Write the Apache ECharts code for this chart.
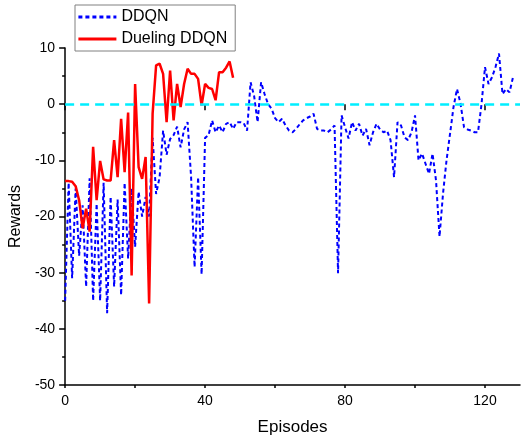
<!DOCTYPE html>
<html>
<head>
<meta charset="utf-8">
<script src="https://cdn.jsdelivr.net/npm/echarts@6/dist/echarts.min.js"></script>
<style>
html,body{margin:0;padding:0;background:#fff;}
#c{width:528px;height:442px;}
</style>
</head>
<body>
<div id="c"></div>
<script>
const seriesNames = ['DDQN', 'Dueling DDQN'];
const xTickLabels = [0, 40, 80, 120];
const xMinorTicks = [0, 20, 40, 60, 80, 100, 120];

const ddqn = [
  -35, -14, -31, -15, -27, -18, -32.5, -13.2, -35, -17.7,
  -35, -14, -37.2, -16.5, -32.5, -17, -34, -14, -27.5, -15,
  -25.4, -15.6, -20, -16.5, -20, -6, -16, -13, -4.7, -9,
  -6.2, -5.5, -4, -7.7, -4.5, -3.2, -13, -29, -13, -30.3,
  -6, -5.5, -2.9, -5, -3.8, -5, -3.5, -3.2, -4.4, -3.2,
  -3.2, -3.3, -4.7, 3.9, 1.5, -3.2, 3.9, 1.8, 0, -0.8,
  -2.5, -3.2, -2.6, -3.8, -4.7, -5, -4.4, -3.6, -2.9, -2.5,
  -2.2, -1.7, -4.4, -4.7, -4.7, -5, -4.5, -3.8, -30.1, -2,
  -4.1, -6.1, -3.2, -4.7, -3.5, -5.6, -4.4, -7.3, -5, -3.5,
  -4.5, -5, -4.7, -6.4, -13, -3.2, -3.8, -5.9, -6.4, -5,
  -2, -10, -8.8, -10.6, -12.4, -8.8, -13.6, -23.6, -15.9, -10,
  -5.3, -0.5, 2.7, 0.1, -4.1, -4.5, -4.7, -5, -5, 0,
  6.6, 3.6, 4.8, 6.6, 9, 1.8, 2.7, 2.1, 4.8
];

const dueling = [
  -13.7, -13.7, -13.8, -14.6, -17.1, -22.1, -18.6, -22.7, -7.6, -17.1,
  -10.1, -13.4, -13.6, -13.6, -6.4, -13.0, -2.6, -12.1, -1.5, -30.5,
  3.6, -11.2, -13.3, -9.4, -35.5, -1.7, 6.9, 7.2, 5.4, -3.2,
  6.0, -2.9, 3.6, -0.5, 3.6, 6.3, 5.4, 5.4, 4.5, -0.2,
  3.6, 2.9, 2.7, 0.7, 5.7, 5.7, 6.5, 7.6, 4.7
];

const toPairs = arr => arr.map((v, i) => [i, v]);

const font = 'Arial, "Liberation Sans", sans-serif';
const chart = echarts.init(document.getElementById('c'), null, {renderer: 'canvas'});
chart.setOption({
  animation: false,
  backgroundColor: '#fff',
  grid: {left: 63, right: 8, top: 48, bottom: 57, containLabel: false},
  legend: {
    data: seriesNames,
    orient: 'vertical',
    left: 75, top: 5,
    padding: [4, 8, 4, 2],
    itemWidth: 38, itemHeight: 16, itemGap: 6,
    borderColor: '#808080', borderWidth: 1,
    backgroundColor: '#fff',
    itemStyle: {opacity: 0},
    lineStyle: {width: 2.8},
    textStyle: {fontSize: 16, fontFamily: font, color: '#000'}
  },
  xAxis: [{
    type: 'value', min: 0, max: 130, interval: 20,
    name: 'Episodes', nameLocation: 'middle', nameGap: 34,
    nameTextStyle: {fontSize: 17, fontFamily: font, color: '#000'},
    axisLine: {show: true, onZero: false, lineStyle: {color: '#000', width: 1.5}},
    axisTick: {show: true, length: 3, customValues: xMinorTicks, lineStyle: {color: '#000', width: 1.5}},
    axisLabel: {customValues: xTickLabels, fontSize: 14, fontFamily: font, color: '#000', margin: 9},
    splitLine: {show: false}
  }, {
    type: 'value', min: 0, max: 130, interval: 20, position: 'bottom',
    axisLine: {show: false},
    axisTick: {show: true, length: 6, customValues: xTickLabels, lineStyle: {color: '#000', width: 1.5}},
    axisLabel: {show: false},
    splitLine: {show: false}
  }],
  yAxis: {
    type: 'value', min: -50, max: 10, interval: 10,
    name: 'Rewards', nameLocation: 'middle', nameGap: 41,
    nameTextStyle: {fontSize: 16, fontFamily: font, color: '#000'},
    axisLine: {show: true, onZero: false, lineStyle: {color: '#000', width: 1.5}},
    axisTick: {show: true, length: 6, lineStyle: {color: '#000', width: 1.5}},
    minorTick: {show: true, splitNumber: 2, length: 3, lineStyle: {color: '#000', width: 1.5}},
    axisLabel: {fontSize: 14, fontFamily: font, color: '#000', margin: 10},
    splitLine: {show: false},
    minorSplitLine: {show: false}
  },
  series: [{
    name: seriesNames[0], type: 'line', data: toPairs(ddqn),
    symbol: 'none', color: '#0000ff',
    lineStyle: {color: '#0000ff', width: 2, type: [4, 3]},
    z: 2
  }, {
    name: seriesNames[1], type: 'line', data: toPairs(dueling),
    symbol: 'none', color: '#ff0000',
    lineStyle: {color: '#ff0000', width: 2.5, type: 'solid'},
    z: 3,
    markLine: {
      silent: true, symbol: 'none', label: {show: false},
      lineStyle: {color: '#00eeff', width: 2.5, type: [9, 6]},
      data: [{yAxis: 0}]
    }
  }]
});
</script>
</body>
</html>
